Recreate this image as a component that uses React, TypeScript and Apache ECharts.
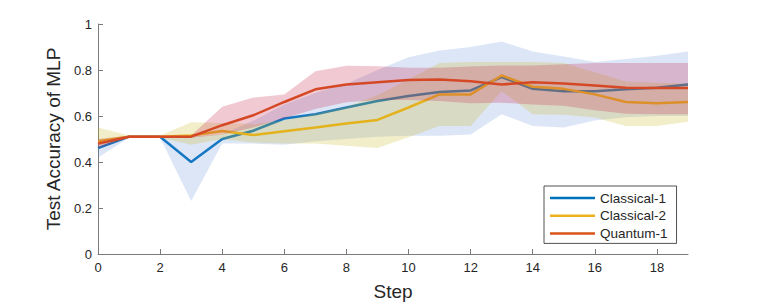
import React, { useEffect, useRef } from "react";
import * as echarts from "echarts";

const steps = [0, 1, 2, 3, 4, 5, 6, 7, 8, 9, 10, 11, 12, 13, 14, 15, 16, 17, 18, 19];
const xTicks = [0, 2, 4, 6, 8, 10, 12, 14, 16, 18];
const yTicks = [0, 0.2, 0.4, 0.6, 0.8, 1];

const classical1 = [0.46, 0.51, 0.51, 0.40, 0.50, 0.536, 0.589, 0.608, 0.637, 0.665, 0.687, 0.704, 0.711, 0.769, 0.718, 0.708, 0.708, 0.716, 0.723, 0.737];
const classical1Lower = [0.42, 0.505, 0.505, 0.23, 0.48, 0.48, 0.475, 0.49, 0.50, 0.51, 0.514, 0.514, 0.52, 0.608, 0.557, 0.55, 0.58, 0.595, 0.60, 0.60];
const classical1Upper = [0.49, 0.515, 0.515, 0.51, 0.52, 0.58, 0.65, 0.70, 0.74, 0.80, 0.855, 0.885, 0.90, 0.924, 0.88, 0.859, 0.835, 0.848, 0.862, 0.88];

const classical2 = [0.49, 0.51, 0.51, 0.515, 0.535, 0.517, 0.534, 0.55, 0.567, 0.583, 0.637, 0.694, 0.694, 0.776, 0.727, 0.718, 0.694, 0.661, 0.655, 0.661];
const classical2Lower = [0.47, 0.505, 0.505, 0.475, 0.50, 0.485, 0.48, 0.48, 0.471, 0.461, 0.508, 0.557, 0.557, 0.708, 0.608, 0.605, 0.593, 0.557, 0.557, 0.575];
const classical2Upper = [0.55, 0.515, 0.515, 0.573, 0.57, 0.565, 0.58, 0.61, 0.64, 0.69, 0.76, 0.83, 0.835, 0.835, 0.835, 0.83, 0.79, 0.75, 0.745, 0.74];

const quantum1 = [0.48, 0.51, 0.51, 0.51, 0.56, 0.603, 0.661, 0.716, 0.737, 0.747, 0.756, 0.759, 0.751, 0.737, 0.747, 0.741, 0.733, 0.723, 0.722, 0.722];
const quantum1Lower = [0.46, 0.505, 0.505, 0.505, 0.52, 0.55, 0.59, 0.63, 0.66, 0.67, 0.67, 0.665, 0.655, 0.658, 0.65, 0.645, 0.625, 0.61, 0.608, 0.608];
const quantum1Upper = [0.50, 0.515, 0.515, 0.515, 0.64, 0.68, 0.694, 0.795, 0.818, 0.816, 0.81, 0.81, 0.815, 0.82, 0.82, 0.825, 0.83, 0.83, 0.83, 0.83];

const names = ["Classical-1", "Classical-2", "Quantum-1"];
const lineColors = ["#0072BD", "#EDB120", "#D95319"];
const bandColors = ["rgba(100,140,220,0.22)", "rgba(200,180,20,0.23)", "rgba(200,40,80,0.25)"];

const FONT = "'Liberation Sans', Arial, Helvetica, sans-serif";
const TEXT = "#262626";

function pairs(vals: number[]) {
  return steps.map((s, i) => [s, vals[i]]);
}

function bandSeries(idx: number, lower: number[], upper: number[]) {
  return {
    type: "custom",
    name: "band" + idx,
    silent: true,
    z: 3 + idx * 2,
    data: steps.map((s, i) => [s, lower[i], upper[i]]),
    encode: { x: 0, y: [1, 2] },
    renderItem: (params: any, api: any) => {
      if (params.dataIndex !== 0) return null;
      const top = steps.map((s, i) => api.coord([s, upper[i]]));
      const bottom = steps.map((s, i) => api.coord([s, lower[i]])).reverse();
      return {
        type: "polygon",
        shape: { points: top.concat(bottom) },
        style: { fill: bandColors[idx], stroke: "none" },
        silent: true,
      };
    },
  };
}

function lineSeries(idx: number, vals: number[]) {
  return {
    type: "line",
    name: names[idx],
    z: 2 + idx * 2,
    data: pairs(vals),
    symbol: "none",
    color: lineColors[idx],
    lineStyle: { width: 2.5, color: lineColors[idx] },
  };
}

export default function App() {
  const ref = useRef<HTMLDivElement>(null);
  useEffect(() => {
    if (!ref.current) return;
    const chart = echarts.init(ref.current, undefined, { renderer: "svg" });
    const axisLineStyle = { color: "#7a7a7a", width: 1 };
    chart.setOption({
      animation: false,
      backgroundColor: "#ffffff",
      textStyle: { fontFamily: FONT },
      grid: { left: 98, right: 73, top: 24, bottom: 50, containLabel: false },
      legend: {
        data: names,
        orient: "vertical",
        left: 544,
        top: 186,
        z: 20,
        padding: [5, 9, 3, 6],
        icon: "rect",
        itemWidth: 45,
        itemHeight: 2.5,
        itemGap: 3.7,
        backgroundColor: "#ffffff",
        borderColor: "#262626",
        borderWidth: 0.8,
        borderRadius: 0,
        textStyle: { fontFamily: FONT, fontSize: 13.5, lineHeight: 14, color: TEXT },
      },
      xAxis: {
        type: "value",
        min: 0,
        max: 19,
        interval: 2,
        name: "Step",
        nameLocation: "middle",
        nameGap: 28,
        nameTextStyle: { fontFamily: FONT, fontSize: 19, color: TEXT },
        axisLine: { show: true, lineStyle: axisLineStyle },
        axisTick: { show: true, inside: true, length: 5, lineStyle: axisLineStyle, customValues: xTicks },
        axisLabel: { fontFamily: FONT, fontSize: 13, color: TEXT, margin: 7, customValues: xTicks },
        splitLine: { show: false },
      },
      yAxis: {
        type: "value",
        min: 0,
        max: 1,
        interval: 0.2,
        name: "Test Accuracy of MLP",
        nameLocation: "middle",
        nameGap: 32,
        nameTextStyle: { fontFamily: FONT, fontSize: 19, color: TEXT },
        axisLine: { show: true, lineStyle: axisLineStyle },
        axisTick: { show: true, inside: true, length: 5, lineStyle: axisLineStyle, customValues: yTicks },
        axisLabel: {
          fontFamily: FONT,
          fontSize: 13,
          color: TEXT,
          margin: 6,
          customValues: yTicks,
          formatter: (v: number) => String(Math.round(v * 10) / 10),
        },
        splitLine: { show: false },
      },
      series: [
        lineSeries(0, classical1),
        bandSeries(0, classical1Lower, classical1Upper),
        lineSeries(1, classical2),
        bandSeries(1, classical2Lower, classical2Upper),
        lineSeries(2, quantum1),
        bandSeries(2, quantum1Lower, quantum1Upper),
      ],
    });
    return () => chart.dispose();
  }, []);
  return <div ref={ref} style={{ width: 761, height: 306, position: "absolute", left: 0, top: 0 }} />;
}
